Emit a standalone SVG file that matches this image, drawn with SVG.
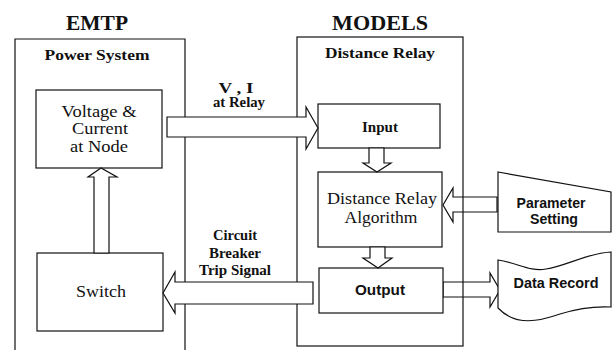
<svg xmlns="http://www.w3.org/2000/svg" width="614" height="350" viewBox="0 0 614 350">
<style>
.ln{fill:none;stroke:#111;stroke-width:1.2}
.bx{fill:#fff;stroke:#111;stroke-width:1.2}
.ar{fill:#fff;stroke:#111;stroke-width:1.2;stroke-linejoin:miter}
.ttl{font-family:"Liberation Serif",serif;font-weight:bold;font-size:22px;fill:#111;text-anchor:middle}
.hb{font-family:"Liberation Serif",serif;font-weight:bold;font-size:14px;fill:#111;text-anchor:middle}
.sr{font-family:"Liberation Serif",serif;font-size:16px;fill:#111;text-anchor:middle}
.ss{font-family:"Liberation Sans",sans-serif;font-weight:bold;font-size:14px;fill:#111;text-anchor:middle}
</style>
<rect width="614" height="350" fill="#fff"/>
<g id="connectors-back">
<polygon class="ar" points="497,197 453,197 453,188 443,205 453,222 453,212 497,212"/>
<polygon class="ar" points="443,282 490,282 490,273 500,290 490,307 490,297 443,297"/>
</g>
<g id="emtp">
<path class="ln" d="M15,350 L15,39 L185,39 L185,350"/>
<text class="ttl" x="97" y="30" textLength="62" lengthAdjust="spacingAndGlyphs">EMTP</text>
<text class="hb" x="97" y="60" textLength="105" lengthAdjust="spacingAndGlyphs">Power System</text>
</g>
<g id="models">
<rect class="ln" x="297" y="37" width="166" height="309"/>
<text class="ttl" x="380" y="30" textLength="96" lengthAdjust="spacingAndGlyphs">MODELS</text>
<text class="hb" x="380" y="58" textLength="110" lengthAdjust="spacingAndGlyphs">Distance Relay</text>
</g>
<g id="voltage">
<rect class="bx" x="36" y="90" width="126" height="78"/>
<text class="sr" x="99" y="117" textLength="75" lengthAdjust="spacingAndGlyphs">Voltage &amp;</text>
<text class="sr" x="100" y="134" textLength="56" lengthAdjust="spacingAndGlyphs">Current</text>
<text class="sr" x="99" y="152" textLength="58" lengthAdjust="spacingAndGlyphs">at Node</text>
</g>
<g id="switch">
<rect class="bx" x="37" y="253" width="126" height="78"/>
<text class="sr" x="101" y="297" font-size="17" textLength="50" lengthAdjust="spacingAndGlyphs">Switch</text>
</g>
<g id="input">
<rect class="bx" x="318" y="104" width="122" height="44"/>
<text class="hb" x="380" y="132" font-size="15" textLength="36" lengthAdjust="spacingAndGlyphs">Input</text>
</g>
<g id="algorithm">
<rect class="bx" x="318" y="172" width="124" height="75"/>
<text class="sr" x="382" y="204" textLength="110" lengthAdjust="spacingAndGlyphs">Distance Relay</text>
<text class="sr" x="381" y="223" textLength="73" lengthAdjust="spacingAndGlyphs">Algorithm</text>
</g>
<g id="output">
<rect class="bx" x="319" y="268" width="124" height="45"/>
<text class="ss" x="380" y="295" font-size="15" textLength="50" lengthAdjust="spacingAndGlyphs">Output</text>
</g>
<g id="parameter">
<polygon class="bx" points="498,172 611,192 611,232 498,232"/>
<text class="ss" x="551" y="208" textLength="69" lengthAdjust="spacingAndGlyphs">Parameter</text>
<text class="ss" x="554" y="224" textLength="48" lengthAdjust="spacingAndGlyphs">Setting</text>
</g>
<g id="data-record">
<path class="bx" d="M498,260 C518,263 530,272 546,269 C566,266 588,253 611,252 L611,307 C592,306 576,309 560,314 C540,321 516,327 498,308 Z"/>
<text class="ss" x="556" y="288" font-size="14.5" textLength="85" lengthAdjust="spacingAndGlyphs">Data Record</text>
</g>
<g id="connectors">
<polygon class="ar" points="167,117 306,117 306,107 318,128 306,149 306,137 167,137"/>
<polygon class="ar" points="313,282 175,282 175,272 163,293 175,313 175,304 313,304"/>
<polygon class="ar" points="94,253 94,177 88,177 101,168 117,177 109,177 109,253"/>
<polygon class="ar" points="369,148 369,163 363,163 377,172 391,163 384,163 384,148"/>
<polygon class="ar" points="370,247 370,258 363,258 378,268 392,258 385,258 385,247"/>
</g>
<g id="labels">
<text class="hb" x="236" y="93" textLength="35" lengthAdjust="spacingAndGlyphs">V , I</text>
<text class="hb" x="239" y="107" textLength="52" lengthAdjust="spacingAndGlyphs">at Relay</text>
<text class="hb" x="235" y="240" textLength="44" lengthAdjust="spacingAndGlyphs">Circuit</text>
<text class="hb" x="235" y="258" textLength="52" lengthAdjust="spacingAndGlyphs">Breaker</text>
<text class="hb" x="235" y="275" textLength="72" lengthAdjust="spacingAndGlyphs">Trip Signal</text>
</g>
</svg>
